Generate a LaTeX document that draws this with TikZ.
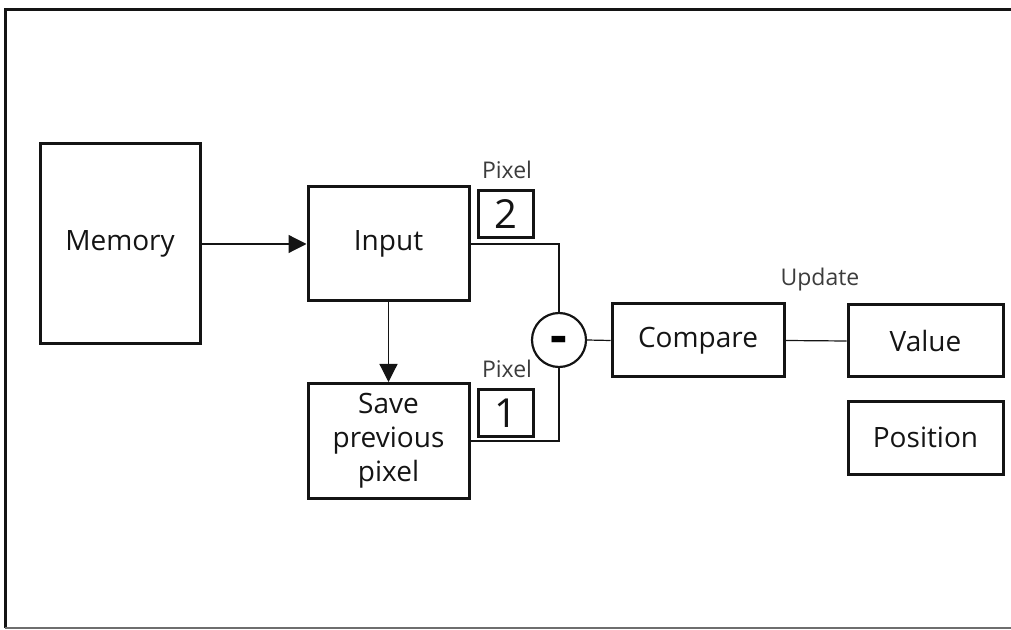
\documentclass[tikz,border=0pt]{standalone}
\usepackage{fontspec}
\setmainfont{Open Sans}
\usepackage{tikz}
\usetikzlibrary{arrows.meta,positioning}
\definecolor{boxInk}{RGB}{20,20,20}
\definecolor{tagInk}{RGB}{60,60,60}
\definecolor{frameGray}{RGB}{110,110,110}

\begin{document}
\begin{tikzpicture}[x=0.5pt,y=-0.5pt,
  block/.style={draw=boxInk, line width=1.5pt, inner sep=0pt, align=center,
    text=boxInk, font=\fontsize{14}{17}\selectfont},
  pixbox/.style={draw=boxInk, line width=1.5pt, inner sep=0pt,
    minimum width=27.5pt, minimum height=23.5pt, text=boxInk,
    font=\fontsize{20}{20}\selectfont},
  tag/.style={text=tagInk, font=\fontsize{11.5}{13}\selectfont},
  wire/.style={boxInk, line width=0.6pt},
  flow/.style={wire, -{Triangle[length=9pt,width=9pt]}}]
\useasboundingbox (0,0) rectangle (1011,630);
% frame round the figure
\draw[boxInk, line width=1.5pt] (1011,9.5) -- (5,9.5) -- (5,628);
\draw[frameGray, line width=0.7pt] (5,628) -- (1011,628);

\node[block, minimum width=80pt, minimum height=100pt] (memory) at (120,244) {Memory};
\node[block, minimum width=80.5pt, minimum height=57pt] (input) at (388.5,244) {Input};
\node[block, minimum width=80.5pt, minimum height=57.5pt] (save) at (388.5,441) {Save\\previous\\pixel};
\node[draw=boxInk, circle, line width=1.1pt, minimum size=27pt, inner sep=0pt,
  text height=14pt, text depth=0pt, font=\fontsize{26}{26}\bfseries] (minus) at (559,340) {-};
\node[block, minimum width=86pt, minimum height=36.5pt] (compare) at (698,340.5) {Compare};
\node[block, minimum width=77.5pt, minimum height=36pt] (value) at (925.5,341) {Value};
\node[block, minimum width=77.5pt, minimum height=36.5pt] (position) at (925.5,437.5) {Position};

\node[pixbox] (pixtwo) at (505.5,214) {2};
\node[tag] (pixtwolbl) at (507,170) {Pixel};
\node[pixbox] (pixone) at (505.5,413) {1};
\node[tag] (pixonelbl) at (507,369) {Pixel};
\node[tag] (update) at (820,280) {Update};

\draw[flow] (memory.east) -- (input.west);
\draw[flow] (input.south) -- (save.north);
\draw[wire] (input.east) -| (minus.north);
\draw[wire] (save.east) -| (minus.south);
\draw[wire] (minus.east) -- (compare.west);
\draw[wire] (compare.east) -- (value.west);
\end{tikzpicture}
\end{document}
